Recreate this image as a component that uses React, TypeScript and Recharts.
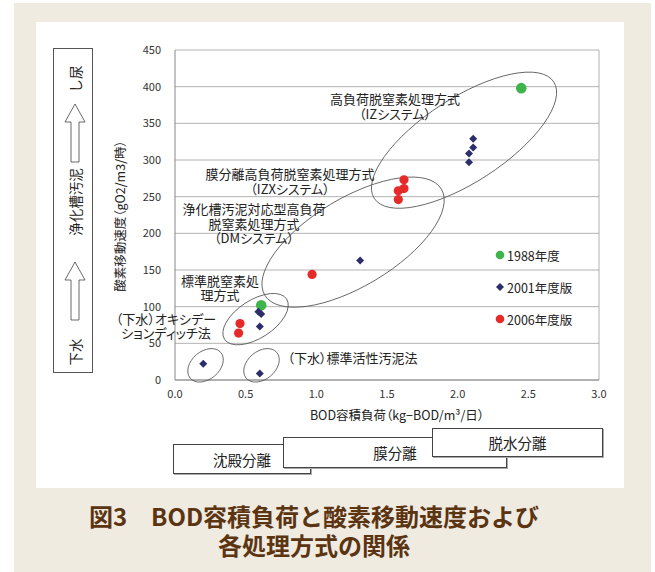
import { ScatterChart, Scatter, XAxis, YAxis, CartesianGrid, Legend, ReferenceDot, ReferenceLine } from 'recharts';

const FONT = '"Noto Sans CJK JP", "Noto Sans", sans-serif';

const X_TICKS = [0, 0.5, 1, 1.5, 2, 2.5, 3];
const Y_TICKS = [0, 50, 100, 150, 200, 250, 300, 350, 400, 450];

const SERIES_NAMES = ['1988年度', '2001年度版', '2006年度版'];
const SERIES_COLORS = ['#3db54a', '#2b2e6b', '#e52a2a'];

const DATA_1988 = [
  { x: 2.45, y: 398 },
  { x: 0.61, y: 102 },
];
const DATA_2001 = [
  { x: 2.11, y: 329 },
  { x: 2.11, y: 317 },
  { x: 2.08, y: 309 },
  { x: 2.08, y: 297 },
  { x: 1.31, y: 163 },
  { x: 0.59, y: 93 },
  { x: 0.61, y: 90 },
  { x: 0.6, y: 73 },
  { x: 0.2, y: 22 },
  { x: 0.6, y: 9 },
];
const DATA_2006 = [
  { x: 1.62, y: 273 },
  { x: 1.62, y: 261 },
  { x: 1.58, y: 258 },
  { x: 1.58, y: 246 },
  { x: 0.97, y: 144 },
  { x: 0.46, y: 77 },
  { x: 0.45, y: 64 },
];

// groups circled on the chart (centre in data units, radii in px)
const RINGS = [
  { x: 2.045, y: 327, rx: 107, ry: 42, angle: -33 },
  { x: 1.26, y: 188, rx: 103, ry: 44, angle: -31 },
  { x: 0.57, y: 83, rx: 37, ry: 19, angle: -33 },
  { x: 0.216, y: 20, rx: 20, ry: 14, angle: -40 },
  { x: 0.612, y: 20, rx: 20, ry: 14, angle: -40 },
];

const NOTES = [
  { x: 1.556, y: 382, lines: ['高負荷脱窒素処理方式', '（IZシステム）'] },
  { x: 0.814, y: 280, lines: ['膜分離高負荷脱窒素処理方式', '（IZXシステム）'] },
  { x: 0.559, y: 232, lines: ['浄化槽汚泥対応型高負荷', '脱窒素処理方式', '（DMシステム）'] },
  { x: 0.318, y: 135, lines: ['標準脱窒素処', '理方式'] },
  { x: -0.064, y: 83, lines: ['（下水）オキシデー', 'ションディッチ法'] },
  { x: 1.256, y: 30, lines: ['（下水）標準活性汚泥法'] },
];

const STAGES = [
  { label: '沈殿分離', left: 173, top: 444, width: 138, height: 30 },
  { label: '膜分離', left: 283, top: 437, width: 224, height: 31 },
  { label: '脱水分離', left: 432, top: 428, width: 171, height: 29 },
];

const dot = (color: string, r: number) => (p: any) => <circle cx={p.cx} cy={p.cy} r={r} fill={color} />;

const diamond = (color: string, s: number) => (p: any) => (
  <path d={`M${p.cx},${p.cy - s}L${p.cx + s},${p.cy}L${p.cx},${p.cy + s}L${p.cx - s},${p.cy}Z`} fill={color} />
);

const ring = (rx: number, ry: number, angle: number) => (p: any) => (
  <ellipse
    cx={p.cx}
    cy={p.cy}
    rx={rx}
    ry={ry}
    transform={`rotate(${angle} ${p.cx} ${p.cy})`}
    fill="none"
    stroke="#555"
    strokeWidth={0.8}
  />
);

const note = (lines: string[]) => (p: any) => (
  <text
    x={p.cx}
    y={p.cy}
    textAnchor="middle"
    fontSize={13}
    fill="#222"
    style={{ fontFeatureSettings: '"palt"' }}
  >
    {lines.map((l, i) => (
      <tspan key={i} x={p.cx} dy={i === 0 ? 4.5 : 14.5}>
        {l}
      </tspan>
    ))}
  </text>
);

// hollow upward arrow for the side box
const arrow = (tip: number) =>
  `M75,${tip}L85,${tip + 18}L79,${tip + 18}L79,${tip + 58}L71,${tip + 58}L71,${tip + 18}L65,${tip + 18}Z`;

function LegendBox() {
  return (
    <div style={{ fontFamily: FONT, fontSize: 12.5, color: '#222' }}>
      {SERIES_NAMES.map((name, i) => (
        <div key={name} style={{ display: 'flex', alignItems: 'center', height: 32 }}>
          <svg width={12} height={12} style={{ marginRight: 1 }}>
            {i === 1 ? (
              <path d="M6,2L10,6L6,10L2,6Z" fill={SERIES_COLORS[i]} />
            ) : (
              <circle cx={6} cy={6} r={4.3} fill={SERIES_COLORS[i]} />
            )}
          </svg>
          <span>{name}</span>
        </div>
      ))}
    </div>
  );
}

export default function App() {
  return (
    <div style={{ position: 'relative', width: 655, height: 572, background: '#fff', fontFamily: FONT, overflow: 'hidden' }}>
      <style>{'body{margin:0}'}</style>
      <div style={{ position: 'absolute', left: 14, top: 3, width: 637, height: 569, background: '#f0ebe1' }} />
      <div style={{ position: 'absolute', left: 36, top: 22, width: 588, height: 466, background: '#fff' }} />

      <div style={{ position: 'absolute', left: 0, top: 0 }}>
        <ScatterChart width={655} height={572} margin={{ top: 50, right: 56, bottom: 162, left: 115 }}>
          <CartesianGrid vertical={false} stroke="#a0a0a0" strokeWidth={0.8} />
          <XAxis
            type="number"
            dataKey="x"
            domain={[0, 3]}
            ticks={X_TICKS}
            tickFormatter={(v) => Number(v).toFixed(1)}
            tick={{ fill: '#333', fontSize: 11, fontFamily: FONT }}
            tickLine={false}
            tickMargin={4}
            axisLine={{ stroke: '#888' }}
            height={30}
            label={(p: any) => (
              <text
                x={p.viewBox.x + p.viewBox.width / 2 + 10}
                y={p.viewBox.y + 40}
                textAnchor="middle"
                fontSize={12.5}
                fill="#222"
                fontFamily={FONT}
                style={{ fontFeatureSettings: '"palt"' }}
              >
                BOD容積負荷（kg−BOD/m³/日）
              </text>
            )}
          />
          <YAxis
            type="number"
            dataKey="y"
            domain={[0, 450]}
            ticks={Y_TICKS}
            tick={{ fill: '#333', fontSize: 11, fontFamily: FONT }}
            tickLine={false}
            tickMargin={8}
            axisLine={{ stroke: '#888' }}
            width={60}
            label={(p: any) => {
              const x = p.viewBox.x + 4;
              const y = p.viewBox.y + p.viewBox.height / 2 + 1;
              return (
                <text
                  x={x}
                  y={y}
                  transform={`rotate(-90 ${x} ${y})`}
                  textAnchor="middle"
                  dominantBaseline="central"
                  fontSize={12.5}
                  fill="#222"
                  fontFamily={FONT}
                  style={{ fontFeatureSettings: '"palt"' }}
                >
                  酸素移動速度（gO2/m3/時）
                </text>
              );
            }}
          />
          <ReferenceLine x={3} stroke="#a0a0a0" strokeWidth={0.8} />
          {RINGS.map((r, i) => (
            <ReferenceDot key={`r${i}`} x={r.x} y={r.y} r={0} ifOverflow="visible" shape={ring(r.rx, r.ry, r.angle)} />
          ))}
          {NOTES.map((n, i) => (
            <ReferenceDot key={`n${i}`} x={n.x} y={n.y} r={0} ifOverflow="visible" shape={note(n.lines)} />
          ))}
          <Scatter name={SERIES_NAMES[0]} data={DATA_1988} shape={dot(SERIES_COLORS[0], 5.3)} isAnimationActive={false} />
          <Scatter name={SERIES_NAMES[1]} data={DATA_2001} shape={diamond(SERIES_COLORS[1], 4)} isAnimationActive={false} />
          <Scatter name={SERIES_NAMES[2]} data={DATA_2006} shape={dot(SERIES_COLORS[2], 4.6)} isAnimationActive={false} />
          <Legend
            layout="vertical"
            align="center"
            verticalAlign="middle"
            content={() => <LegendBox />}
            wrapperStyle={{ left: 494, top: 239, width: 110 }}
          />
        </ScatterChart>
      </div>

      <svg width={655} height={572} style={{ position: 'absolute', left: 0, top: 0, pointerEvents: 'none' }}>
        <rect x={53.5} y={48.5} width={39} height={324} fill="none" stroke="#555" strokeWidth={1} />
        <path d={arrow(104)} fill="#fff" stroke="#444" strokeWidth={0.8} />
        <path d={arrow(262)} fill="#fff" stroke="#444" strokeWidth={0.8} />
        {[
          { t: 'し尿', y: 79 },
          { t: '浄化槽汚泥', y: 202 },
          { t: '下水', y: 352 },
        ].map((d) => (
          <text
            key={d.t}
            x={75}
            y={d.y}
            transform={`rotate(-90 75 ${d.y})`}
            textAnchor="middle"
            dominantBaseline="central"
            fontSize={13.5}
            fill="#222"
            fontFamily={FONT}
          >
            {d.t}
          </text>
        ))}
      </svg>

      {STAGES.map((s) => (
        <div
          key={s.label}
          style={{
            position: 'absolute',
            left: s.left,
            top: s.top,
            width: s.width,
            height: s.height,
            boxSizing: 'border-box',
            border: '1px solid #444',
            boxShadow: '1px 1px 0 #aaa',
            background: '#fff',
            display: 'flex',
            alignItems: 'center',
            justifyContent: 'center',
            fontSize: 14.5,
            color: '#222',
          }}
        >
          {s.label}
        </div>
      ))}

      <div
        style={{
          position: 'absolute',
          left: 0,
          top: 501,
          width: 628,
          textAlign: 'center',
          fontSize: 24,
          fontWeight: 700,
          lineHeight: '29px',
          color: '#5b3412',
        }}
      >
        図3　BOD容積負荷と酸素移動速度および
        <br />
        各処理方式の関係
      </div>
    </div>
  );
}
